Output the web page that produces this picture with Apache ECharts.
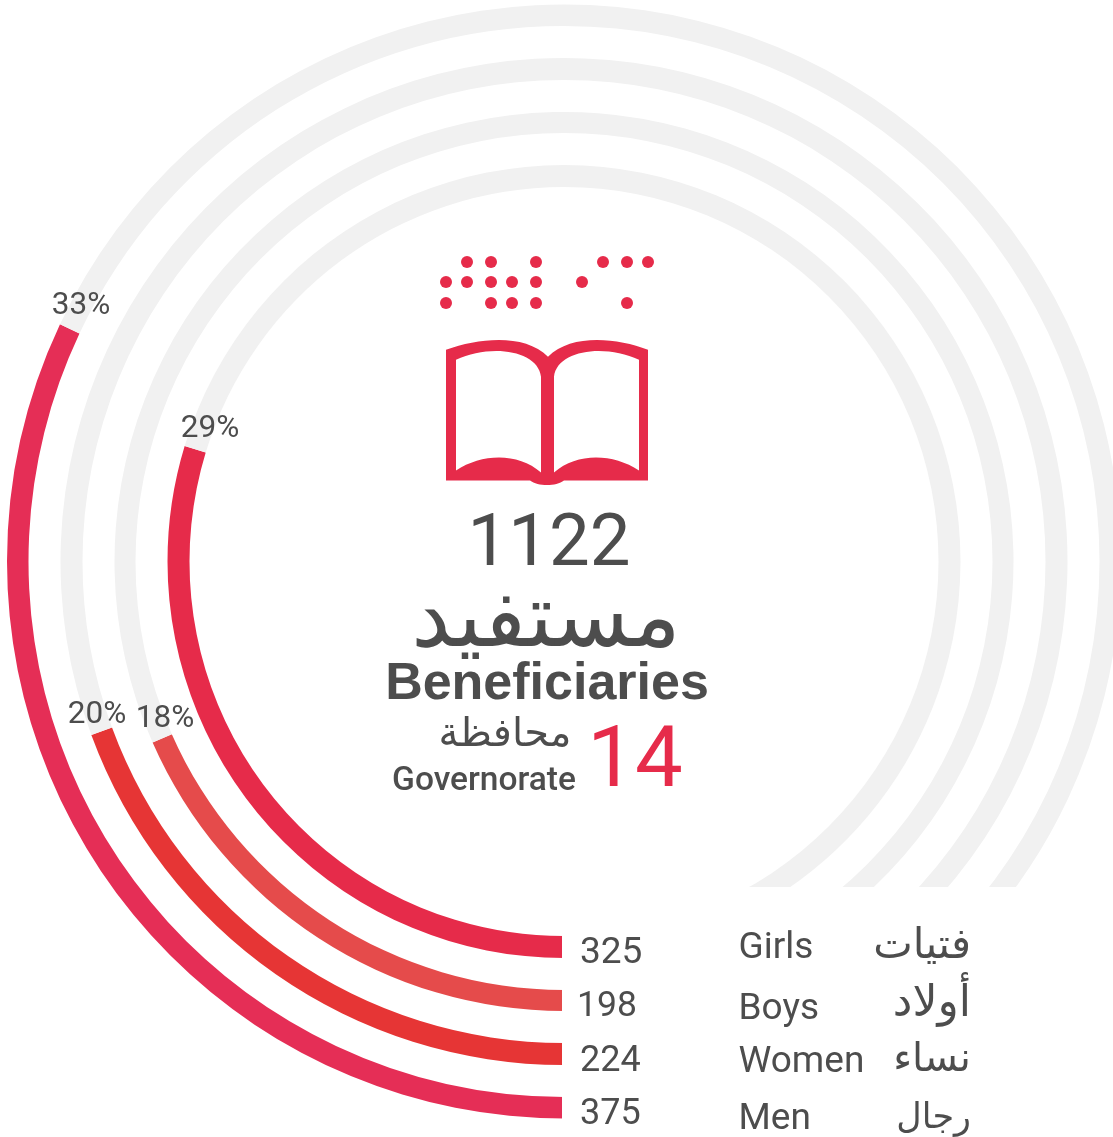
<!DOCTYPE html>
<html>
<head>
<meta charset="utf-8">
<style>html,body{margin:0;padding:0;background:#fff}#c{width:1113px;height:1137px}</style>
<script src="https://cdn.jsdelivr.net/npm/echarts@6/dist/echarts.min.js"></script>
</head>
<body>
<div id="c"></div>
<script>
// Data, inner ring to outer ring
var categoriesEn = ['Girls', 'Boys', 'Women', 'Men'];
var categoriesAr = ['فتيات', 'أولاد', 'نساء', 'رجال'];
var counts = [325, 198, 224, 375];
var percentLabels = ['29%', '18%', '20%', '33%'];
var drawnShare = [29.7, 18.4, 19.4, 32];
var ringColors = ['#E62B4A', '#E54B4B', '#E63535', '#E52E56'];
var totalCount = '1122';
var governorates = '14';

var GREY = '#F1F1F1', TEXT = '#4D4D4D', RED = '#E62B4A';
var CX = 564, CY = 561.5;
var radii = [[374.5, 396.5], [428.5, 449.5], [481.5, 503.5], [535.5, 557]];
var percentPos = [[210, 429.5], [165, 719.5], [97, 715.5], [81, 306.5]];
var countPos = [[580, 954], [577, 1007.5], [580, 1061.5], [580, 1115]];
var countSize = [37, 35.5, 36, 36];
var enY = [948.5, 1009.5, 1062.5, 1119.5];
var arY = [947, 1005, 1061, 1119];
var arSize = [42, 44, 40, 35];

var series = drawnShare.map(function (v, i) {
  return {
    type: 'pie', silent: true, animation: false,
    center: [CX, CY], radius: radii[i], startAngle: 270, clockwise: true,
    label: { show: false }, labelLine: { show: false },
    data: [
      { value: v, itemStyle: { color: ringColors[i] } },
      { value: 100 - v, itemStyle: { color: GREY } }
    ]
  };
});

var bookPath =
  'M446 350 C480 338 525 334 548 357 C571 334 616 338 648 350 L648 480 L564 480 C556 486 538 486 530 480 L446 480 Z ' +
  'M456 360 L456 470 C482 453 518 452 541 472 L541 377 C538 350 490 344 456 360 Z ' +
  'M639 360 C605 344 557 350 554 377 L554 472 C577 452 613 453 639 470 Z';

series.push({
  type: 'custom', coordinateSystem: 'none', silent: true, animation: false, z: 20,
  data: [[0]],
  renderItem: function () {
    return {
      type: 'path',
      shape: { pathData: bookPath, x: 446, y: 340, width: 202, height: 145, layout: 'cover' },
      style: { fill: RED }
    };
  }
});

function txt(s, x, y, size, opt) {
  opt = opt || {};
  return {
    type: 'text', x: x, y: y, z: 50, silent: true,
    style: {
      text: s, fill: opt.fill || TEXT,
      font: (opt.weight || 'normal') + ' ' + size + 'px ' + (opt.family || 'Roboto'),
      textAlign: opt.align || 'center', textVerticalAlign: 'middle'
    }
  };
}

var AR = '"DejaVu Sans"';
var elements = [
  { type: 'rect', z: 10, silent: true, shape: { x: 562, y: 887, width: 560, height: 260 }, style: { fill: '#fff' } }
];

var dotRows = [
  [262, [467, 491, 536, 603, 627, 648]],
  [282, [446, 467, 491, 512, 536, 582]],
  [303, [446, 491, 512, 536, 627]]
];
dotRows.forEach(function (r) {
  r[1].forEach(function (x) {
    elements.push({ type: 'circle', z: 50, silent: true, shape: { cx: x, cy: r[0], r: 6 }, style: { fill: RED } });
  });
});

elements.push(txt(totalCount, 549, 547, 72.5));
elements.push(txt('مستفيد', 546, 623, 88, { family: AR }));
elements.push(txt('Beneficiaries', 547, 685, 52, { family: '"Liberation Sans"', weight: 'bold' }));
elements.push(txt('محافظة', 505, 736, 40, { family: AR }));
elements.push(txt('Governorate', 484, 782, 33.5, { weight: '500' }));
elements.push(txt(governorates, 635, 765, 85, { fill: RED }));

percentLabels.forEach(function (p, i) {
  elements.push(txt(p, percentPos[i][0], percentPos[i][1], 31.5));
  elements.push(txt(String(counts[i]), countPos[i][0], countPos[i][1], countSize[i], { align: 'left' }));
  elements.push(txt(categoriesEn[i], 738.5, enY[i], 37, { align: 'left' }));
  elements.push(txt(categoriesAr[i], 971, arY[i], arSize[i], { align: 'right', family: AR }));
});

var chart = echarts.init(document.getElementById('c'), null, { renderer: 'canvas' });
chart.setOption({
  animation: false,
  backgroundColor: '#fff',
  series: series,
  graphic: { elements: elements }
});
</script>
</body>
</html>
